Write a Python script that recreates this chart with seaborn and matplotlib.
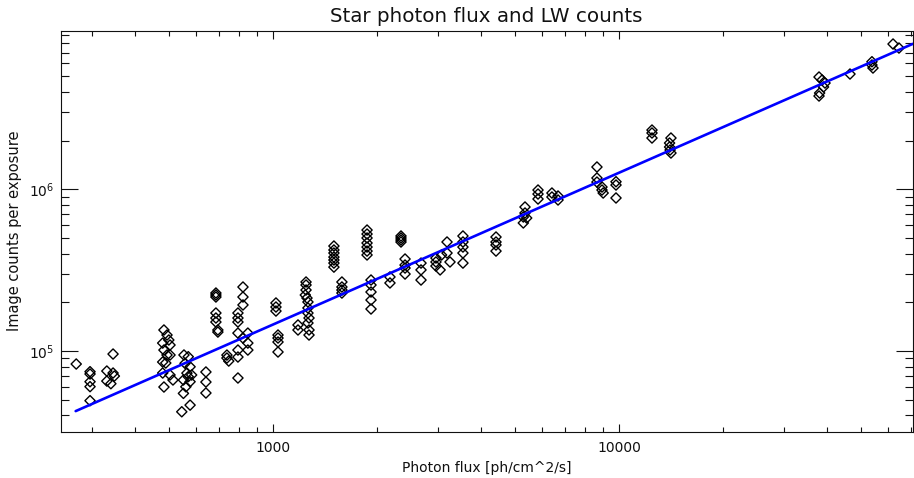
import matplotlib
matplotlib.use("Agg")
import matplotlib.pyplot as plt
import matplotlib.ticker as mticker
import seaborn as sns
import pandas as pd

# ---- data ----
flux = [
    270,
    296, 296, 296, 296, 296,
    331, 331, 340, 345, 345, 348,
    484, 494, 500, 480, 504, 484, 494, 504, 480, 490, 480, 504, 514, 484,
    553, 557, 569, 576, 564, 569, 551, 582, 576, 551, 560, 545, 576,
    640, 640, 640,
    684, 684, 684, 684, 684, 684, 693, 693,
    736, 736, 745, 792,
    819, 819, 819, 792, 792, 792, 792, 846, 819, 846, 792, 846, 792,
    1020, 1020, 1020, 1034, 1034, 1034, 1034,
    1246, 1246, 1246, 1240, 1254, 1262, 1262, 1262, 1271, 1262, 1271, 1271, 1181, 1181,
    1500, 1500, 1500, 1500, 1500, 1500, 1500, 1582, 1582, 1582, 1582,
    1870, 1870, 1870, 1870, 1870, 1870, 1870, 1920, 1920, 1920, 1920, 1920,
    2344, 2344, 2344, 2344,
    2178, 2178,
    2408, 2408, 2408, 2408,
    2678, 2678, 2678,
    2958, 2958, 2958, 3041, 3184, 3184, 3248, 3070,
    3540, 3540, 3540, 3540, 3540,
    4411, 4411, 4411, 4411,
    5350, 5350, 5290, 5410, 5290,
    5834, 5834, 5834,
    6400, 6400, 6665, 6665,
    8635, 8635, 8635, 8930, 8930, 9000, 9803, 9803, 9803,
    12455, 12455, 12455,
    14130, 14000, 14000, 14050, 14130,
    37850, 38640, 39390, 39000, 38000, 37850,
    46510,
    53830, 53830, 54200,
    61940, 64430,
]
counts = [
    83100,
    74500, 72100, 64600, 60200, 49300,
    75200, 65200, 62800, 95800, 73100, 70000,
    134900, 125600, 117000, 112000, 108900, 101400, 94500, 94500, 85500, 84300, 73100, 71100, 66200, 59900,
    94500, 83900, 92200, 79900, 73000, 69400, 66200, 71100, 64600, 54700, 60100, 42100, 46300,
    74200, 64300, 55000,
    228400, 222000, 215800, 171800, 160000, 151100, 134900, 131000,
    94400, 90500, 86700, 68100,
    248800, 215800, 192700, 171800, 160000, 151100, 129100, 129100, 120300, 112000, 101400, 101400, 91800,
    198200, 187100, 176700, 125600, 120300, 113700, 98600,
    267200, 256000, 238400, 222000, 212600, 201000, 184600, 171800, 160000, 149000, 134900, 125600, 144900, 134900,
    446000, 421500, 403600, 381000, 365500, 349800, 330300, 267200, 248800, 238400, 228400,
    560000, 529000, 500000, 465600, 439600, 415000, 392600, 274800, 256000, 231700, 206700, 181900,
    514500, 500000, 485700, 472300,
    287000, 263500,
    370700, 340200, 326000, 299300,
    349800, 317300, 274800,
    375900, 355400, 335500, 317300, 472300, 403600, 355400, 392600,
    514500, 472300, 439600, 403600, 349800,
    507000, 472300, 452600, 415000,
    777300, 713700, 674500, 664500, 619300,
    990000, 935000, 871000,
    948700, 896200, 909000, 859000,
    1374000, 1175000, 1109000, 1033000, 990000, 948700, 1114000, 1063000, 884000,
    2326000, 2230000, 2076000,
    2076000, 1933000, 1827000, 1750000, 1677000,
    4948000, 4742000, 4542000, 4294000, 3940000, 3776000,
    5164000,
    6152000, 5872000, 5625000,
    7917000, 7478000,
]
fit_flux = [269, 70600]
fit_counts = [42500, 7930000]

x_limits = [243.5, 70600]
y_limits = [31700, 9570000]
x_tick_values = [1000, 10000]
x_tick_labels = ["1000", "10000"]
y_tick_values = [1e5, 1e6]
y_tick_labels = [r"$10^{5}$", r"$10^{6}$"]

title = "Star photon flux and LW counts"
xlabel = "Photon flux [ph/cm^2/s]"
ylabel = "Image counts per exposure"

df = pd.DataFrame({"flux": flux, "counts": counts})
fit_df = pd.DataFrame({"flux": fit_flux, "counts": fit_counts})

sns.set_style("white")
plt.rcParams["font.family"] = ["DejaVu Sans"]
plt.rcParams["mathtext.fontset"] = "dejavusans"
plt.rcParams["text.color"] = "#111111"
plt.rcParams["axes.labelcolor"] = "#111111"

W, H = 914, 478
fig = plt.figure(figsize=(W / 100, H / 100), dpi=100)
left, right, top, bottom = 60.7, 912.7, 30.7, 431.7
ax = fig.add_axes([left / W, (H - bottom) / H, (right - left) / W, (bottom - top) / H])
ax.set_xscale("log")
ax.set_yscale("log")

sns.scatterplot(data=df, x="flux", y="counts", ax=ax, marker="D", s=27,
                linewidth=1.0, legend=False, zorder=2)
coll = ax.collections[0]
coll.set_facecolor("none")
coll.set_edgecolor("black")
coll.set_linewidth(1.0)

sns.lineplot(data=fit_df, x="flux", y="counts", ax=ax, color="#0000ff",
             linewidth=1.9, zorder=3, legend=False)

ax.set_xlim(*x_limits)
ax.set_ylim(*y_limits)

ax.xaxis.set_major_locator(mticker.FixedLocator(x_tick_values))
ax.xaxis.set_major_formatter(mticker.FixedFormatter(x_tick_labels))
ax.yaxis.set_major_locator(mticker.FixedLocator(y_tick_values))
ax.yaxis.set_major_formatter(mticker.FixedFormatter(y_tick_labels))
ax.xaxis.set_minor_locator(mticker.LogLocator(base=10, subs=range(2, 10), numticks=20))
ax.yaxis.set_minor_locator(mticker.LogLocator(base=10, subs=range(2, 10), numticks=20))
ax.xaxis.set_minor_formatter(mticker.NullFormatter())
ax.yaxis.set_minor_formatter(mticker.NullFormatter())

ax.tick_params(axis="x", which="major", direction="in", length=6.1, width=0.8,
               top=True, bottom=True, labelsize=10, pad=7, colors="#111111")
ax.tick_params(axis="x", which="minor", direction="in", length=3.6, width=0.8,
               top=True, bottom=True, colors="#111111")
ax.tick_params(axis="y", which="major", direction="in", length=12.2, width=0.8,
               left=True, right=True, labelsize=10, pad=4.5, colors="#111111")
ax.tick_params(axis="y", which="minor", direction="in", length=6.0, width=0.8,
               left=True, right=True, colors="#111111")
for sp in ax.spines.values():
    sp.set_visible(True)
    sp.set_color("#111111")
    sp.set_linewidth(0.8)

ax.set_xlabel(xlabel, fontsize=10, labelpad=4)
ax.set_ylabel(ylabel, fontsize=10.5, labelpad=5)
ax.set_title(title, fontsize=14.3, pad=6)

fig.savefig("out.png", dpi=100)
